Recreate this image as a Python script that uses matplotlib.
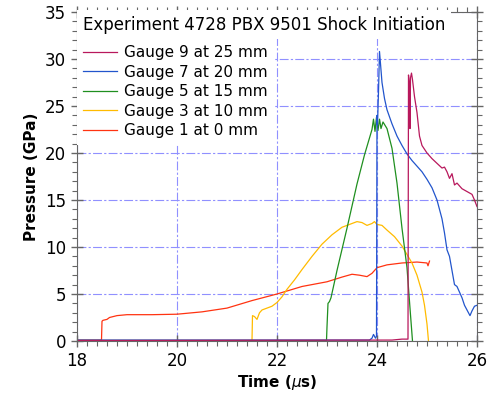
import numpy as np
import matplotlib
matplotlib.use("Agg")
import matplotlib.pyplot as plt
from matplotlib.ticker import MultipleLocator

# gauge traces (time in us, pressure in GPa)
t1 = [18.0, 18.49, 18.5, 18.52, 18.6, 18.65, 18.8, 19.0, 19.5, 20.0, 20.5, 21.0, 21.5, 22.0,
      22.5, 23.0, 23.3, 23.5, 23.65, 23.8, 23.9, 24.0, 24.2, 24.5, 24.8, 25.0, 25.02, 25.05]
p1 = [0.1, 0.1, 2.1, 2.2, 2.3, 2.5, 2.7, 2.8, 2.8, 2.85, 3.1, 3.5, 4.3, 5.0,
      5.8, 6.3, 6.8, 7.1, 7.0, 6.85, 7.2, 7.8, 8.1, 8.3, 8.4, 8.3, 8.0, 8.5]

t3 = [18.0, 21.5, 21.51, 21.55, 21.6, 21.65, 21.7, 21.8, 21.9, 22.0, 22.1, 22.2, 22.35, 22.5,
      22.7, 22.9, 23.1, 23.3, 23.5, 23.6, 23.7, 23.8, 23.9, 23.95, 24.0, 24.1, 24.2, 24.35,
      24.5, 24.6, 24.7, 24.8, 24.9, 24.95, 25.0, 25.03]
p3 = [0.05, 0.05, 2.7, 2.6, 2.3, 3.0, 3.3, 3.5, 3.7, 4.1, 4.7, 5.5, 6.5, 7.6,
      9.0, 10.3, 11.3, 12.1, 12.5, 12.7, 12.6, 12.3, 12.5, 12.7, 12.4, 12.3, 11.8, 11.1,
      10.1, 9.2, 8.3, 7.0, 5.2, 3.8, 1.8, 0.0]

t5 = [18.0, 22.99, 23.0, 23.02, 23.05, 23.08, 23.2, 23.4, 23.6, 23.75, 23.85, 23.9, 23.93,
      23.96, 23.99, 24.02, 24.05, 24.08, 24.12, 24.2, 24.3, 24.4, 24.5, 24.6, 24.66, 24.71]
p5 = [0.05, 0.05, 1.5, 4.0, 4.2, 4.6, 7.5, 12.0, 16.7, 19.8, 21.6, 22.5, 23.6,
      22.3, 23.8, 22.4, 23.6, 22.6, 23.3, 22.6, 20.5, 16.8, 12.0, 7.8, 3.5, 0.0]

t7 = [18.0, 23.85, 23.9, 23.93, 23.97, 23.99, 24.0, 24.01, 24.03, 24.05, 24.07, 24.1, 24.15,
      24.2, 24.3, 24.4, 24.5, 24.6, 24.7, 24.8, 24.9, 25.0, 25.1, 25.2, 25.3, 25.35, 25.4,
      25.45, 25.5, 25.55, 25.6, 25.65, 25.7, 25.75, 25.8, 25.86, 25.9, 25.95, 26.0]
p7 = [0.1, 0.1, 0.3, 0.7, 0.3, 0.5, 24.0, 23.0, 26.5, 30.8, 29.5, 27.5, 25.8,
      24.6, 23.1, 21.8, 20.8, 19.9, 19.2, 18.6, 18.0, 17.2, 16.3, 15.0, 13.0, 11.5, 9.7,
      9.0, 7.5, 6.0, 5.8, 5.2, 4.6, 3.8, 3.3, 2.7, 3.2, 3.7, 3.8]

t9 = [18.0, 24.3, 24.5, 24.62, 24.63, 24.645, 24.66, 24.67, 24.69, 24.71, 24.75, 24.8, 24.85,
      24.9, 25.0, 25.1, 25.2, 25.3, 25.35, 25.4, 25.45, 25.5, 25.55, 25.6, 25.7, 25.8, 25.9,
      25.95, 26.0]
p9 = [0.05, 0.1, 0.2, 0.2, 28.3, 27.5, 22.6, 28.0, 28.5, 27.8, 26.0, 24.3, 21.8,
      20.8, 20.0, 19.4, 18.9, 18.4, 18.5, 18.0, 17.3, 17.8, 16.6, 16.8, 16.2, 15.9, 15.6,
      15.0, 14.3]

labels = ["Gauge 1 at 0 mm", "Gauge 3 at 10 mm", "Gauge 5 at 15 mm",
          "Gauge 7 at 20 mm", "Gauge 9 at 25 mm"]
colors = ["#ff3311", "#ffbb00", "#1f8f1f", "#2255cc", "#b8185c"]

fig = plt.figure(figsize=(4.92, 4.00), dpi=100)
ax = fig.add_axes([0.1565, 0.1475, 0.8130, 0.8225])

series = [(t1, p1), (t3, p3), (t5, p5), (t7, p7), (t9, p9)]
handles = []
for (t, p), lab, c in zip(series, labels, colors):
    h, = ax.plot(t, p, color=c, lw=0.9, label=lab)
    handles.append(h)

ax.set_xlim(18, 26)
ax.set_ylim(0, 35)
ax.xaxis.set_major_locator(MultipleLocator(2))
ax.xaxis.set_minor_locator(MultipleLocator(0.2))
ax.yaxis.set_major_locator(MultipleLocator(5))
ax.yaxis.set_minor_locator(MultipleLocator(1))
ax.tick_params(which="both", top=True, right=True, color="#666666", labelsize=12)
ax.tick_params(which="major", direction="inout", length=9, width=1)
ax.tick_params(which="minor", direction="out", length=3.5, width=0.8)
for s in ax.spines.values():
    s.set_color("#666666")

ax.grid(True, which="major", color="#9090ff", lw=0.8, linestyle=(0, (8, 2, 2, 2)))
ax.set_axisbelow(True)

ax.set_xlabel("Time ($\\mu$s)", fontsize=11, fontweight="bold", labelpad=2)
ax.set_ylabel("Pressure (GPa)", fontsize=11, fontweight="bold", labelpad=4)

ax.text(0.015, 0.9605, "Experiment 4728 PBX 9501 Shock Initiation", transform=ax.transAxes,
        fontsize=12, va="center", ha="left", zorder=6,
        bbox=dict(facecolor="white", edgecolor="none", pad=4))

leg = ax.legend(handles[::-1], labels[::-1], loc="upper left",
                bbox_to_anchor=(0.0, 0.918), borderaxespad=0, fontsize=11,
                handlelength=2.2, handletextpad=0.5, labelspacing=0.3,
                frameon=True, fancybox=False, framealpha=1)
leg.get_frame().set_edgecolor("none")
leg.get_frame().set_facecolor("white")

fig.savefig("out.png", dpi=100)
